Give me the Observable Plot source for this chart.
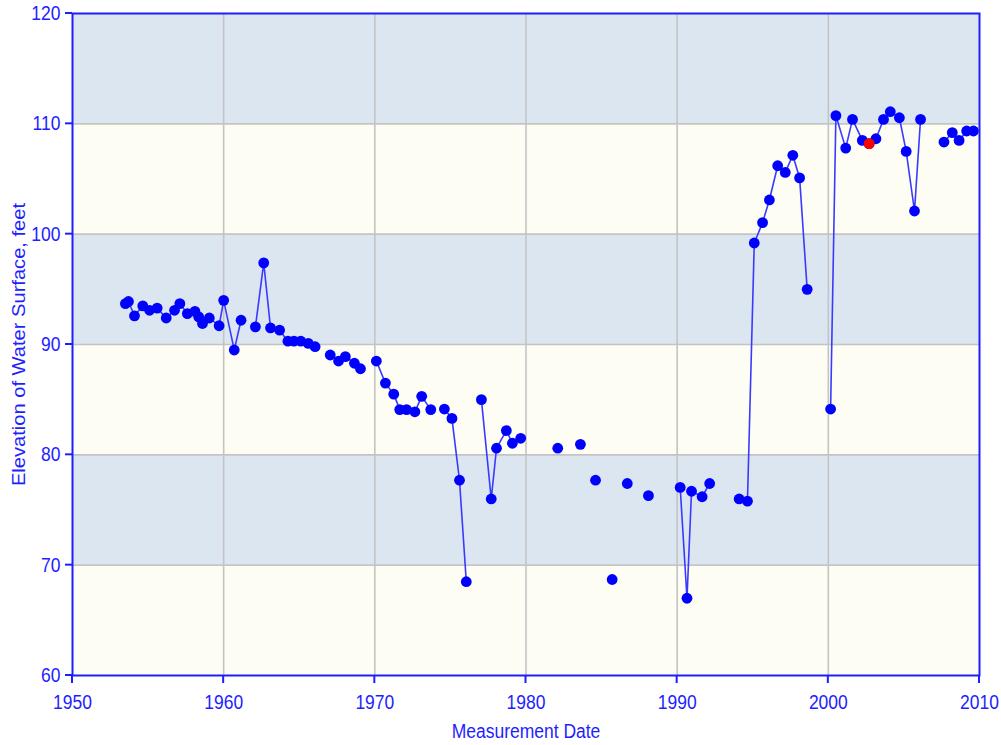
<!DOCTYPE html>
<html>
<head>
<meta charset="utf-8">
<script src="https://cdn.jsdelivr.net/npm/d3@7"></script>
<script src="https://cdn.jsdelivr.net/npm/@observablehq/plot@0.6"></script>
<style>
  html, body { margin: 0; padding: 0; background: #ffffff; }
  #chart { width: 1001px; height: 745px; }
</style>
</head>
<body>
<div id="chart"></div>
<script>
// ---- Data ----
const years = [
  1953.5, 1953.7, 1954.1, 1954.65, 1955.1, 1955.6, 1956.2, 1956.75, 1957.1, 1957.6,
  1958.1, 1958.35, 1958.6, 1959.05, 1959.7, 1960.0, 1960.7, 1961.15, 1962.1, 1962.65,
  1963.1, 1963.7, 1964.25, 1964.65, 1965.1, 1965.6, 1966.05, 1967.05, 1967.6, 1968.05,
  1968.65, 1969.05, 1970.1, 1970.7, 1971.25, 1971.65, 1972.1, 1972.65, 1973.1, 1973.7,
  1974.6, 1975.1, 1975.6, 1976.05, 1977.05, 1977.7, 1978.05, 1978.7, 1979.1, 1979.65,
  1982.1, 1983.6, 1984.6, 1985.7, 1986.7, 1988.1, 1990.2, 1990.65, 1990.95, 1991.65,
  1992.15, 1994.1, 1994.65, 1995.1, 1995.65, 1996.1, 1996.65, 1997.15, 1997.65, 1998.1,
  1998.6, 2000.15, 2000.5, 2001.15, 2001.6, 2002.25, 2002.7, 2003.15, 2003.65, 2004.1,
  2004.7, 2005.15, 2005.7, 2006.1, 2007.65, 2008.2, 2008.65, 2009.15, 2009.6
];
const elevations = [
  93.7, 93.9, 92.6, 93.5, 93.1, 93.3, 92.4, 93.1, 93.7, 92.8,
  93.0, 92.5, 91.9, 92.4, 91.7, 94.0, 89.5, 92.2, 91.6, 97.4,
  91.5, 91.3, 90.3, 90.3, 90.3, 90.1, 89.8, 89.05, 88.5, 88.9,
  88.3, 87.8, 88.5, 86.5, 85.5, 84.1, 84.1, 83.9, 85.3, 84.1,
  84.15, 83.3, 77.7, 68.5, 85.0, 76.0, 80.6, 82.2, 81.05, 81.5,
  80.6, 80.95, 77.7, 68.7, 77.4, 76.3, 77.05, 67.0, 76.7, 76.2,
  77.4, 76.0, 75.8, 99.2, 101.05, 103.1, 106.2, 105.6, 107.15, 105.1,
  95.0, 84.15, 110.75, 107.8, 110.4, 108.5, 108.2, 108.65, 110.4, 111.1,
  110.55, 107.5, 102.1, 110.4, 108.35, 109.2, 108.5, 109.35, 109.35
];
// highlighted (red) measurement
const highlightYears = [2002.7];
const highlightElevations = [108.2];

const xTicks = [1950, 1960, 1970, 1980, 1990, 2000, 2010];
const yTicks = [60, 70, 80, 90, 100, 110, 120];
const xLabel = "Measurement Date";
const yLabel = "Elevation of Water Surface, feet";
// lines are broken where measurements are further apart than this (years)
const maxGap = 0.8;

// ---- Layout / styles ----
const W = 1001, H = 745, mL = 72, mR = 22, mT = 13, mB = 70;
const BLUE = "#1e1eff";
const bandBlue = "#dce6f1";
const bandIvory = "#fdfdf4";

// ---- Build tables ----
let seg = 0;
const data = years.map((yr, i) => {
  if (i > 0 && yr - years[i - 1] > maxGap) seg++;
  return { year: yr, elev: elevations[i], seg };
});
const highlight = highlightYears.map((yr, i) => ({ year: yr, elev: highlightElevations[i] }));
const bands = yTicks.slice(0, -1).map((lo, i) => ({
  lo, hi: yTicks[i + 1], fill: i % 2 === 0 ? bandIvory : bandBlue
}));

const chart = Plot.plot({
  width: W,
  height: H,
  marginLeft: mL,
  marginRight: mR,
  marginTop: mT,
  marginBottom: mB,
  style: {
    fontFamily: "'Liberation Sans', Arial, sans-serif",
    fontSize: "17.5px",
    color: BLUE,
    background: "#ffffff",
    overflow: "visible"
  },
  x: { domain: [xTicks[0], xTicks[xTicks.length - 1]] },
  y: { domain: [yTicks[0], yTicks[yTicks.length - 1]] },
  marks: [
    Plot.rect(bands, {
      x1: () => xTicks[0], x2: () => xTicks[xTicks.length - 1],
      y1: "lo", y2: "hi", fill: "fill"
    }),
    Plot.ruleX(xTicks.slice(1, -1), { stroke: "#c4c4c4", strokeWidth: 1.6 }),
    Plot.ruleY(yTicks.slice(1, -1), { stroke: "#c4c4c4", strokeWidth: 1.6 }),
    Plot.line(data, { x: "year", y: "elev", z: "seg", stroke: "#3a3aff", strokeWidth: 1.6 }),
    Plot.dot(data, { x: "year", y: "elev", r: 5.4, fill: "#0000ff" }),
    Plot.dot(highlight, { x: "year", y: "elev", r: 5.4, fill: "#ff0000" }),
    Plot.frame({ stroke: BLUE, strokeWidth: 2 }),
    Plot.axisX({
      ticks: xTicks, tickFormat: d => String(d), tickSize: 0, tickPadding: 19,
      fill: BLUE, label: null, fontSize: 17.5
    }),
    Plot.axisY({
      ticks: yTicks, tickSize: 0, tickPadding: 12,
      fill: BLUE, label: null, fontSize: 17.5
    }),
    Plot.text([xLabel], { frameAnchor: "bottom", dy: 62, text: d => d, fill: BLUE, fontSize: 17.5 }),
    Plot.text([yLabel], { frameAnchor: "left", dx: -53, rotate: -90, textAnchor: "middle", text: d => d, fill: BLUE, fontSize: 17.5 })
  ]
});

// outward tick marks, placed with the chart's own scales
const sx = chart.scale("x"), sy = chart.scale("y");
const svg = d3.select(chart);
const tickG = svg.append("g").attr("stroke", BLUE).attr("stroke-width", 2);
xTicks.forEach(t => {
  const px = sx.apply(t);
  tickG.append("line").attr("x1", px).attr("x2", px).attr("y1", H - mB).attr("y2", H - mB + 8);
});
yTicks.forEach(t => {
  const py = sy.apply(t);
  tickG.append("line").attr("x1", mL - 7).attr("x2", mL).attr("y1", py).attr("y2", py);
});

// text slightly taller, like the reference
chart.querySelectorAll('g[aria-label$="tick label"] text').forEach(t => {
  t.setAttribute("transform", (t.getAttribute("transform") || "") + " scale(1,1.15)");
});
chart.querySelectorAll('g[aria-label="text"] text').forEach(t => {
  const tr = t.getAttribute("transform") || "";
  t.setAttribute("transform", tr + (tr.includes("rotate") ? " scale(1.15,1)" : " scale(1,1.15)"));
});

document.getElementById("chart").appendChild(chart);
</script>
</body>
</html>
